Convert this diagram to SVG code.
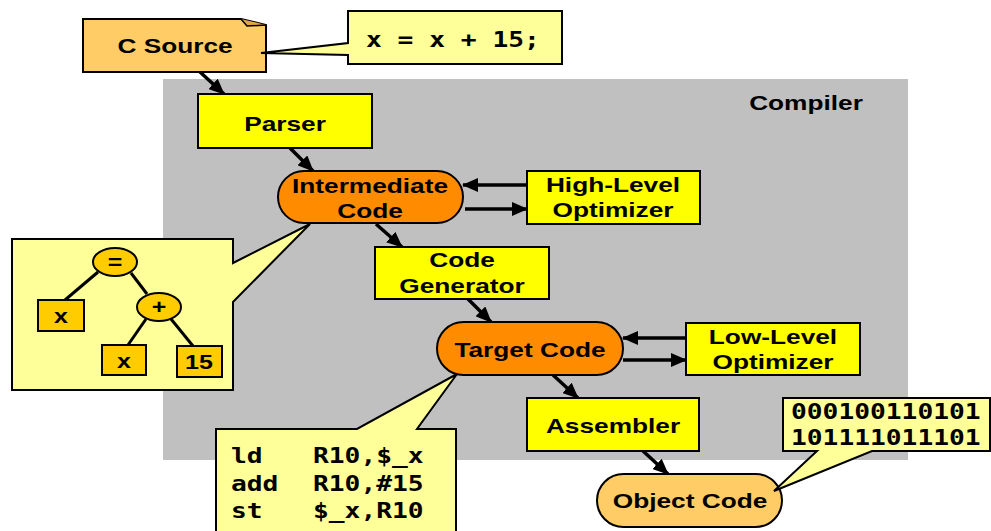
<svg xmlns="http://www.w3.org/2000/svg" width="991" height="531" viewBox="0 0 991 531">
  <style>
    .lbl { font-family: "Liberation Sans", Arial, sans-serif; font-weight: bold; font-size: 21px; fill: #000; text-anchor: middle; }
    .ast { font-family: "Liberation Sans", Arial, sans-serif; font-weight: bold; font-size: 20px; fill: #000; text-anchor: middle; }
    .mono { font-family: "DejaVu Sans Mono", "Liberation Mono", monospace; font-weight: bold; font-size: 21px; fill: #000; }
    .box { fill: #FFFF00; stroke: #000; stroke-width: 2; }
    .pill { fill: #FF8C00; stroke: #000; stroke-width: 2; }
    .pale { fill: #FFCC66; stroke: #000; stroke-width: 2; }
    .note { fill: #FFFF99; stroke: #000; stroke-width: 2; stroke-linejoin: miter; }
    .astn { fill: #FFCC00; stroke: #000; stroke-width: 2; }
    .edge { stroke: #000; stroke-width: 3.5; fill: none; marker-end: url(#arrow); }
    .tree { stroke: #000; stroke-width: 3; fill: none; }
  </style>
  <defs>
    <marker id="arrow" markerUnits="userSpaceOnUse" markerWidth="16" markerHeight="14" refX="15" refY="7" orient="auto">
      <path d="M0,0 L16,7 L0,14 Z" fill="#000"/>
    </marker>
  </defs>

  <!-- compiler region -->
  <rect x="163" y="79" width="745" height="381" fill="#C0C0C0"/>
  <text class="lbl" transform="translate(806 0) scale(1.25 1)" x="0" y="110">Compiler</text>

  <!-- connectors -->
  <g id="connectors">
    <line class="edge" x1="200" y1="72" x2="224" y2="94"/>
    <line class="edge" x1="290" y1="148" x2="313" y2="171"/>
    <line class="edge" x1="527" y1="185" x2="463" y2="185"/>
    <line class="edge" x1="465" y1="209" x2="527" y2="209"/>
    <line class="edge" x1="376" y1="224" x2="402" y2="247"/>
    <line class="edge" x1="468" y1="299" x2="491" y2="322"/>
    <line class="edge" x1="686" y1="338" x2="623" y2="338"/>
    <line class="edge" x1="623" y1="360" x2="686" y2="360"/>
    <line class="edge" x1="553" y1="375" x2="578" y2="398"/>
    <line class="edge" x1="643" y1="451" x2="668" y2="474"/>
  </g>

  <!-- source file node with folded corner -->
  <g id="c-source">
    <path class="pale" d="M83,19 H241 L266,25 V72 H83 Z"/>
    <path d="M241,19 L247,26 L266,25" fill="#E0A840" stroke="#000" stroke-width="1.5"/>
    <text class="lbl" transform="translate(175 0) scale(1.25 1)" x="0" y="53">C Source</text>
  </g>

  <g id="parser">
    <rect class="box" x="198" y="94" width="174" height="54"/>
    <text class="lbl" transform="translate(285 0) scale(1.25 1)" x="0" y="131">Parser</text>
  </g>

  <g id="intermediate-code">
    <rect class="pill" x="278" y="171" width="185" height="52" rx="26"/>
    <text class="lbl" transform="translate(370 0) scale(1.25 1)"><tspan x="0" y="193">Intermediate</tspan><tspan x="0" y="218">Code</tspan></text>
  </g>

  <g id="high-level-optimizer">
    <rect class="box" x="527" y="171" width="173" height="53"/>
    <text class="lbl" transform="translate(613 0) scale(1.25 1)"><tspan x="0" y="192">High-Level</tspan><tspan x="0" y="217">Optimizer</tspan></text>
  </g>

  <g id="code-generator">
    <rect class="box" x="375" y="247" width="174" height="52"/>
    <text class="lbl" transform="translate(462 0) scale(1.25 1)"><tspan x="0" y="267">Code</tspan><tspan x="0" y="293">Generator</tspan></text>
  </g>

  <g id="target-code">
    <rect class="pill" x="437" y="322" width="186" height="53" rx="26.5"/>
    <text class="lbl" transform="translate(530 0) scale(1.25 1)" x="0" y="357">Target Code</text>
  </g>

  <g id="low-level-optimizer">
    <rect class="box" x="686" y="323" width="174" height="52"/>
    <text class="lbl" transform="translate(773 0) scale(1.25 1)"><tspan x="0" y="344">Low-Level</tspan><tspan x="0" y="369">Optimizer</tspan></text>
  </g>

  <g id="assembler">
    <rect class="box" x="527" y="398" width="172" height="53"/>
    <text class="lbl" transform="translate(613 0) scale(1.25 1)" x="0" y="433">Assembler</text>
  </g>

  <g id="object-code">
    <rect class="pale" x="597" y="474" width="185" height="53" rx="26.5"/>
    <text class="lbl" transform="translate(690 0) scale(1.25 1)" x="0" y="508">Object Code</text>
  </g>

  <!-- callout: source statement -->
  <g id="note-source">
    <path class="note" d="M348,11 H562 V64 H348 V55 L261,53 L348,43 Z"/>
    <text class="mono" transform="translate(366 47) scale(1.25 1)" x="0" y="0">x = x + 15;</text>
  </g>

  <!-- callout: syntax tree -->
  <g id="note-tree">
    <path class="note" d="M12,239 H233 V263 L310,224 L233,302 V390 H12 Z"/>
    <line class="tree" x1="98" y1="272" x2="65" y2="300"/>
    <line class="tree" x1="131" y1="273" x2="147" y2="294"/>
    <line class="tree" x1="146" y1="319" x2="128" y2="345"/>
    <line class="tree" x1="171" y1="319" x2="193" y2="346"/>
    <ellipse class="astn" cx="115" cy="262" rx="22" ry="14"/>
    <text class="ast" transform="translate(115 0) scale(1.25 1)" x="0" y="269">=</text>
    <ellipse class="astn" cx="159" cy="307" rx="22" ry="14"/>
    <text class="ast" transform="translate(159 0) scale(1.25 1)" x="0" y="314">+</text>
    <rect class="astn" x="38" y="300" width="46" height="31"/>
    <text class="ast" transform="translate(61 0) scale(1.25 1)" x="0" y="323">x</text>
    <rect class="astn" x="102" y="345" width="44" height="30"/>
    <text class="ast" transform="translate(124 0) scale(1.25 1)" x="0" y="368">x</text>
    <rect class="astn" x="177" y="346" width="45" height="31"/>
    <text class="ast" transform="translate(199 0) scale(1.25 1)" x="0" y="369">15</text>
  </g>

  <!-- callout: assembly listing -->
  <g id="note-asm">
    <path class="note" d="M216,429 H357 L457,374 L417,429 H456 V540 H216 Z"/>
    <text class="mono" transform="translate(231 463) scale(1.25 1)" x="0" y="0">ld</text>
    <text class="mono" transform="translate(313 463) scale(1.25 1)" x="0" y="0">R10,$_x</text>
    <text class="mono" transform="translate(231 491) scale(1.25 1)" x="0" y="0">add</text>
    <text class="mono" transform="translate(313 491) scale(1.25 1)" x="0" y="0">R10,#15</text>
    <text class="mono" transform="translate(231 518) scale(1.25 1)" x="0" y="0">st</text>
    <text class="mono" transform="translate(313 518) scale(1.25 1)" x="0" y="0">$_x,R10</text>
  </g>

  <!-- callout: machine code -->
  <g id="note-binary">
    <path class="note" d="M783,398 H990 V451 H872 L774,491 L817,451 H783 Z"/>
    <text class="mono" transform="translate(791 419) scale(1.25 1)" x="0" y="0">000100110101</text>
    <text class="mono" transform="translate(791 445) scale(1.25 1)" x="0" y="0">101111011101</text>
  </g>
</svg>
